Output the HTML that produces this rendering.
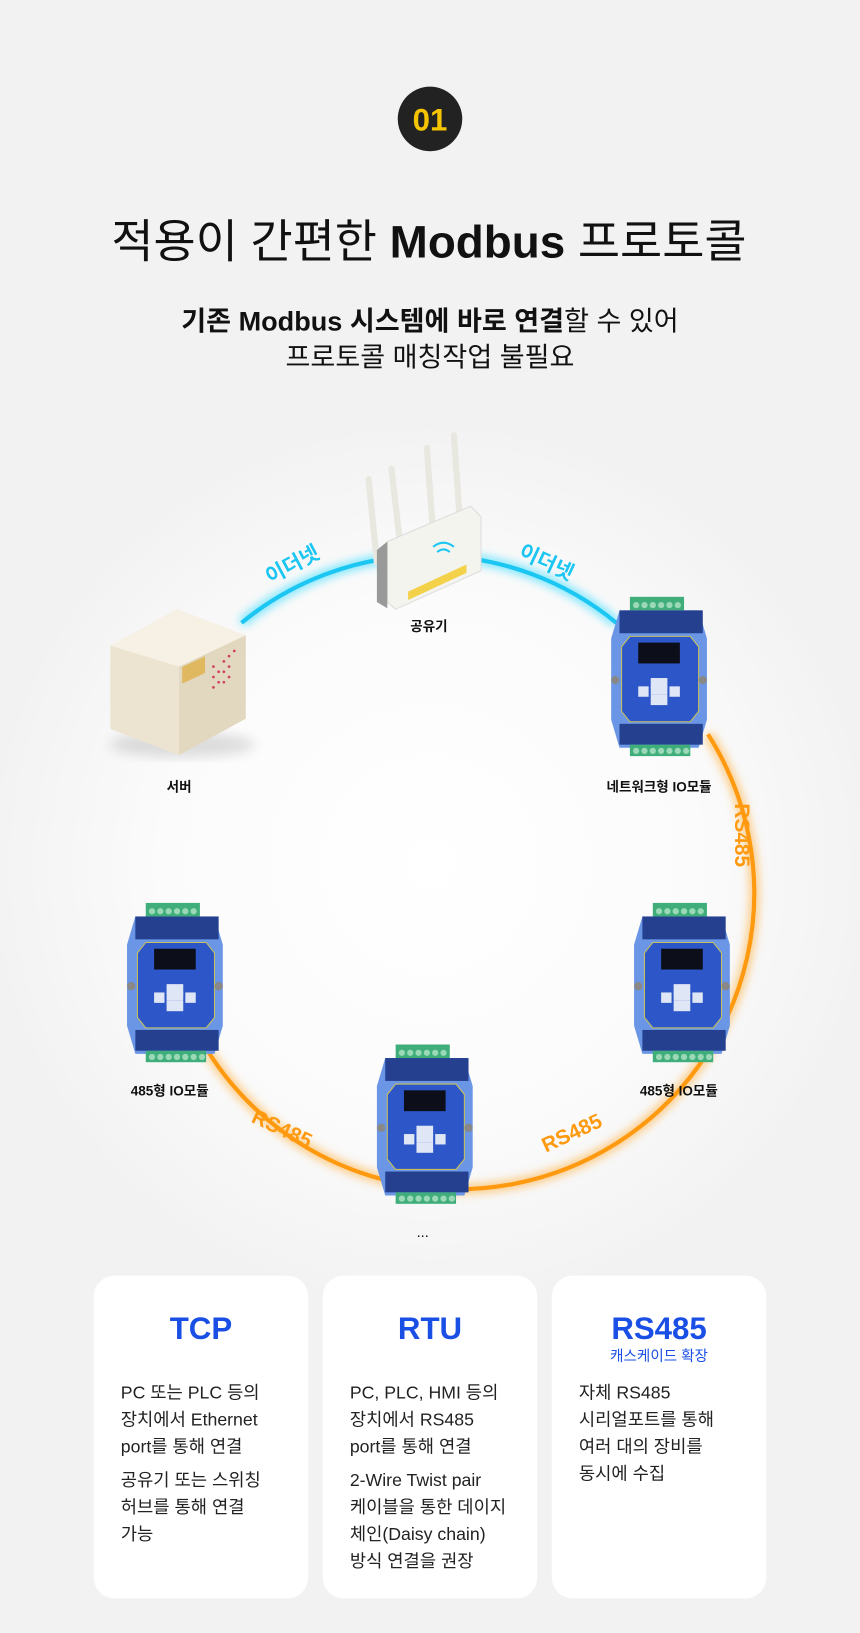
<!DOCTYPE html>
<html><head><meta charset="utf-8"><style>
html,body{margin:0;padding:0;background:#f2f2f2}
svg{display:block}
text{font-family:"Liberation Sans","Noto Sans CJK KR",sans-serif}
</style></head><body>
<svg width="860" height="1633" viewBox="0 0 826 1568" xmlns="http://www.w3.org/2000/svg">
<defs>
<radialGradient id="bg" cx="413" cy="830" r="430" gradientUnits="userSpaceOnUse">
<stop offset="0" stop-color="#ffffff"/><stop offset="0.6" stop-color="#fbfbfb"/><stop offset="1" stop-color="#f2f2f2"/>
</radialGradient>
<filter id="gl" x="-20%" y="-20%" width="140%" height="140%"><feGaussianBlur stdDeviation="4"/></filter>
<filter id="sh" x="-20%" y="-20%" width="140%" height="140%"><feGaussianBlur stdDeviation="6"/></filter>
<g id="mod">
<rect x="22" y="0" width="52" height="13" fill="#3fae7a"/>
<g fill="#9ad8b8"><circle cx="28" cy="8" r="3"/><circle cx="36" cy="8" r="3"/><circle cx="44" cy="8" r="3"/><circle cx="52" cy="8" r="3"/><circle cx="60" cy="8" r="3"/><circle cx="68" cy="8" r="3"/></g>
<path d="M12 13 H88 L96 40 V118 L88 145 H12 L4 118 V40 Z" fill="#6b96e6"/>
<rect x="12" y="13" width="80" height="22" fill="#24408f"/>
<rect x="12" y="122" width="80" height="20" fill="#24408f"/>
<path d="M22 38 H80 L88 48 V110 L80 120 H22 L14 110 V48 Z" fill="#2d56c8" stroke="#c8c05a" stroke-width="1"/>
<rect x="30" y="44" width="40" height="20" fill="#0c0f1a"/>
<rect x="42" y="78" width="16" height="10" fill="#dfe6f5"/>
<rect x="42" y="94" width="16" height="10" fill="#dfe6f5"/>
<rect x="30" y="86" width="10" height="10" fill="#dfe6f5"/>
<rect x="60" y="86" width="10" height="10" fill="#dfe6f5"/>
<rect x="42" y="86" width="16" height="8" fill="#dfe6f5"/>
<circle cx="8" cy="80" r="4" fill="#888"/><circle cx="92" cy="80" r="4" fill="#888"/>
<rect x="22" y="142" width="58" height="11" fill="#3fae7a"/>
<g fill="#9ad8b8"><circle cx="28" cy="148" r="3"/><circle cx="36" cy="148" r="3"/><circle cx="44" cy="148" r="3"/><circle cx="52" cy="148" r="3"/><circle cx="60" cy="148" r="3"/><circle cx="68" cy="148" r="3"/><circle cx="76" cy="148" r="3"/></g>
</g>
</defs>
<rect width="826" height="1568" fill="url(#bg)"/>

<circle cx="413" cy="114" r="31" fill="#222"/>
<text x="413" y="125" font-size="30" font-weight="bold" fill="#f5c400" text-anchor="middle">01</text>
<text x="412" y="247" font-size="44" fill="#111" text-anchor="middle">적용이 간편한 <tspan font-weight="bold">Modbus</tspan> 프로토콜</text>
<text x="413" y="317" font-size="26" fill="#111" text-anchor="middle"><tspan font-weight="bold">기존 Modbus 시스템에 바로 연결</tspan>할 수 있어</text>
<text x="413" y="352" font-size="26" fill="#111" text-anchor="middle">프로토콜 매칭작업 불필요</text>

<path d="M232 598 A283 283 0 0 1 592 598" fill="none" stroke="#4fe0ff" stroke-width="10" filter="url(#gl)" opacity="0.7"/>
<path d="M232 598 A283 283 0 0 1 592 598" fill="none" stroke="#1cc6f2" stroke-width="4"/>
<path d="M680 705 A283 283 0 1 1 200 1010" fill="none" stroke="#ffb040" stroke-width="10" filter="url(#gl)" opacity="0.6"/>
<path d="M680 705 A283 283 0 1 1 200 1010" fill="none" stroke="#ff9a10" stroke-width="4"/>

<text transform="translate(284 548) rotate(-28)" font-size="20" font-weight="bold" fill="#1cc6f2" text-anchor="middle">이더넷</text>
<text transform="translate(522 546) rotate(25)" font-size="20" font-weight="bold" fill="#1cc6f2" text-anchor="middle">이더넷</text>
<text transform="translate(706 802) rotate(90)" font-size="20" font-weight="bold" fill="#ff9a10" text-anchor="middle">RS485</text>
<text transform="translate(268 1090) rotate(25)" font-size="20" font-weight="bold" fill="#ff9a10" text-anchor="middle">RS485</text>
<text transform="translate(552 1094) rotate(-25)" font-size="20" font-weight="bold" fill="#ff9a10" text-anchor="middle">RS485</text>

<g>
<g stroke="#e8e8e0" stroke-width="6" stroke-linecap="round"><line x1="362" y1="540" x2="354" y2="460"/><line x1="384" y1="520" x2="376" y2="450"/><line x1="416" y1="512" x2="410" y2="430"/><line x1="442" y1="505" x2="436" y2="418"/></g>
<path d="M372 520 L452 486 L462 496 L462 548 L380 585 L372 578 Z" fill="#f4f4ef" stroke="#ddd"/>
<path d="M372 520 L362 528 L362 578 L372 584 Z" fill="#999"/>
<path d="M392 568 L448 542 L448 550 L392 576 Z" fill="#f3d24a"/>
<path d="M416 525 q10 -8 20 0" fill="none" stroke="#1cc6f2" stroke-width="2"/>
<path d="M420 530 q6 -5 12 0" fill="none" stroke="#1cc6f2" stroke-width="2"/>
</g>
<text x="412" y="606" font-size="13" font-weight="bold" fill="#111" text-anchor="middle">공유기</text>

<ellipse cx="175" cy="715" rx="70" ry="12" fill="#000" opacity="0.12" filter="url(#sh)"/>
<path d="M106 620 L170 585 L236 610 L236 690 L172 725 L106 700 Z" fill="#ece4d0"/>
<path d="M106 620 L170 585 L236 610 L172 640 Z" fill="#f6f1e4"/>
<path d="M172 640 L236 610 L236 690 L172 725 Z" fill="#e2d8c0"/>
<rect x="175" y="640" width="22" height="16" fill="#e0b860" transform="skewY(-25) translate(0 82)"/>
<g fill="#d04060"><circle cx="205" cy="640" r="1.3"/><circle cx="210" cy="645" r="1.3"/><circle cx="215" cy="635" r="1.3"/><circle cx="220" cy="630" r="1.3"/><circle cx="205" cy="650" r="1.3"/><circle cx="210" cy="655" r="1.3"/><circle cx="215" cy="645" r="1.3"/><circle cx="220" cy="640" r="1.3"/><circle cx="205" cy="660" r="1.3"/><circle cx="215" cy="655" r="1.3"/><circle cx="220" cy="650" r="1.3"/><circle cx="225" cy="625" r="1.3"/></g>
<text x="172" y="760" font-size="13" font-weight="bold" fill="#111" text-anchor="middle">서버</text>

<use href="#mod" transform="translate(583 573)"/>
<text x="633" y="760" font-size="13" font-weight="bold" fill="#111" text-anchor="middle">네트워크형 IO모듈</text>
<use href="#mod" transform="translate(605 867)"/>
<text x="652" y="1052" font-size="13" font-weight="bold" fill="#111" text-anchor="middle">485형 IO모듈</text>
<use href="#mod" transform="translate(118 867)"/>
<text x="163" y="1052" font-size="13" font-weight="bold" fill="#111" text-anchor="middle">485형 IO모듈</text>
<use href="#mod" transform="translate(358 1003)"/>
<text x="406" y="1188" font-size="14" fill="#111" text-anchor="middle">...</text>

<g fill="#fff"><rect x="90" y="1225" width="206" height="310" rx="20"/><rect x="310" y="1225" width="206" height="310" rx="20"/><rect x="530" y="1225" width="206" height="310" rx="20"/></g>
<g font-weight="bold" fill="#1a4fe6" text-anchor="middle" font-size="30">
<text x="193" y="1286">TCP</text><text x="413" y="1286">RTU</text><text x="633" y="1286">RS485</text>
</g>
<text x="633" y="1307" font-size="14" fill="#1a4fe6" text-anchor="middle">캐스케이드 확장</text>
<g font-size="17" fill="#222">
<text x="116" y="1343">PC 또는 PLC 등의</text><text x="116" y="1369">장치에서 Ethernet</text><text x="116" y="1395">port를 통해 연결</text>
<text x="116" y="1427">공유기 또는 스위칭</text><text x="116" y="1453">허브를 통해 연결</text><text x="116" y="1479">가능</text>
<text x="336" y="1343">PC, PLC, HMI 등의</text><text x="336" y="1369">장치에서 RS485</text><text x="336" y="1395">port를 통해 연결</text>
<text x="336" y="1427">2-Wire Twist pair</text><text x="336" y="1453">케이블을 통한 데이지</text><text x="336" y="1479">체인(Daisy chain)</text><text x="336" y="1505">방식 연결을 권장</text>
<text x="556" y="1343">자체 RS485</text><text x="556" y="1369">시리얼포트를 통해</text><text x="556" y="1395">여러 대의 장비를</text><text x="556" y="1421">동시에 수집</text>
</g>
</svg>
</body></html>
